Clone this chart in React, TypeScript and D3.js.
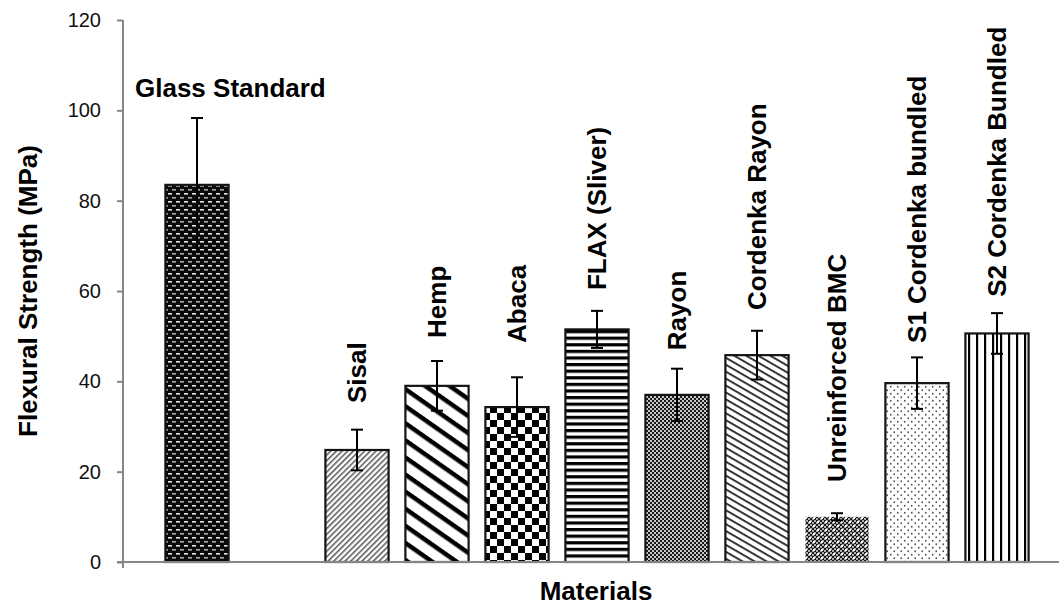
import React, { useEffect, useRef } from 'react'
import * as d3 from 'd3'

// materials (the second slot is an empty gap in the original chart)
const categories = [
  'Glass Standard',
  'gap',
  'Sisal',
  'Hemp',
  'Abaca',
  'FLAX (Sliver)',
  'Rayon',
  'Cordenka Rayon',
  'Unreinforced BMC',
  'S1 Cordenka bundled',
  'S2 Cordenka Bundled',
]
const strength = [83.5, null, 24.8, 39.0, 34.3, 51.5, 37.0, 45.8, 10.0, 39.6, 50.6]
const errors = [14.8, null, 4.5, 5.5, 6.6, 4.1, 5.8, 5.4, 0.8, 5.7, 4.5]
// where each data label sits (MPa)
const labelAt = [103, null, 35.2, 49.6, 48.5, 60.2, 46.9, 55.8, 17.7, 48.5, 58.7]
const fills = ['glass', null, 'sisal', 'hemp', 'abaca', 'flax', 'rayon', 'cordenka', 'bmc', 's1', 's2']
const yTicks = [0, 20, 40, 60, 80, 100, 120]

const W = 1059
const H = 608
const FONT = '"Liberation Sans", Arial, sans-serif'

const App = () => {
  const ref = useRef<SVGSVGElement>(null)

  useEffect(() => {
    const svg = d3.select(ref.current)
    svg.selectAll('*').remove()

    const x = d3
      .scaleBand<string>()
      .domain(categories)
      .range([157, 1037])
      .paddingInner(0.21)
      .paddingOuter(0.105)
    const y = d3.scaleLinear().domain([0, 120]).range([562, 20])

    // patterns
    const defs = svg.append('defs')
    const pat = (id: string, w: number, h: number, rot = 0) => {
      const p = defs
        .append('pattern')
        .attr('id', id)
        .attr('patternUnits', 'userSpaceOnUse')
        .attr('width', w)
        .attr('height', h)
      if (rot) p.attr('patternTransform', `rotate(${rot})`)
      return p
    }

    let p = pat('glass', 8, 8)
    p.append('rect').attr('width', 8).attr('height', 8).attr('fill', '#0a0a0a')
    p.append('rect').attr('x', 0).attr('y', 1).attr('width', 4).attr('height', 1.6).attr('fill', '#e6e6e6')
    p.append('rect').attr('x', 4).attr('y', 5).attr('width', 4).attr('height', 1.6).attr('fill', '#a8a8a8')

    p = pat('sisal', 4, 4, -45)
    p.append('rect').attr('width', 4).attr('height', 4).attr('fill', '#fff')
    p.append('rect').attr('width', 4).attr('height', 1.5).attr('fill', '#555')

    p = pat('hemp', 14, 14, 35)
    p.append('rect').attr('width', 14).attr('height', 14).attr('fill', '#fff')
    p.append('rect').attr('width', 14).attr('height', 4.5).attr('fill', '#000')

    p = pat('abaca', 14, 14)
    p.append('rect').attr('width', 14).attr('height', 14).attr('fill', '#fff')
    p.append('rect').attr('width', 7).attr('height', 7).attr('fill', '#000')
    p.append('rect').attr('x', 7).attr('y', 7).attr('width', 7).attr('height', 7).attr('fill', '#000')

    p = pat('flax', 6.6, 6.6)
    p.append('rect').attr('width', 6.6).attr('height', 6.6).attr('fill', '#fff')
    p.append('rect').attr('width', 6.6).attr('height', 3.2).attr('fill', '#000')

    p = pat('rayon', 4, 4)
    p.append('rect').attr('width', 4).attr('height', 4).attr('fill', '#c8c8c8')
    p.append('rect').attr('width', 2).attr('height', 2).attr('fill', '#1a1a1a')
    p.append('rect').attr('x', 2).attr('y', 2).attr('width', 2).attr('height', 2).attr('fill', '#1a1a1a')

    p = pat('cordenka', 6, 6, 30)
    p.append('rect').attr('width', 6).attr('height', 6).attr('fill', '#fff')
    p.append('rect').attr('width', 6).attr('height', 1.8).attr('fill', '#222')

    p = pat('bmc', 8, 8)
    p.append('rect').attr('width', 8).attr('height', 8).attr('fill', '#b0b0b0')
    for (let i = 0; i < 4; i++)
      for (let j = 0; j < 4; j++)
        if ((i + j) % 2 === 0)
          p.append('rect').attr('x', i * 2).attr('y', j * 2).attr('width', 2).attr('height', 2).attr('fill', '#1a1a1a')
    p.append('rect').attr('x', 1).attr('y', 1).attr('width', 2).attr('height', 2).attr('fill', '#fff')
    p.append('rect').attr('x', 5).attr('y', 5).attr('width', 2).attr('height', 2).attr('fill', '#fff')

    p = pat('s1', 7, 7)
    p.append('rect').attr('width', 7).attr('height', 7).attr('fill', '#fff')
    p.append('circle').attr('cx', 1.75).attr('cy', 1.75).attr('r', 0.9).attr('fill', '#555')
    p.append('circle').attr('cx', 5.25).attr('cy', 5.25).attr('r', 0.9).attr('fill', '#555')

    p = pat('s2', 8, 8)
    p.append('rect').attr('width', 8).attr('height', 8).attr('fill', '#fff')
    p.append('rect').attr('width', 2.2).attr('height', 8).attr('fill', '#000')

    const rows = categories
      .map((c, i) => ({ c, v: strength[i], e: errors[i], l: labelAt[i], f: fills[i], i }))
      .filter(d => d.v !== null)

    // bars
    svg
      .selectAll('rect.bar')
      .data(rows)
      .enter()
      .append('rect')
      .attr('class', 'bar')
      .attr('x', d => x(d.c)!)
      .attr('y', d => y(d.v!))
      .attr('width', x.bandwidth())
      .attr('height', d => y(0) - y(d.v!))
      .attr('fill', d => `url(#${d.f})`)
      .attr('stroke', d => (d.f === 'bmc' ? 'none' : '#141414'))
      .attr('stroke-width', 2.2)

    // axes
    const yAxis = d3.axisLeft(y).tickValues(yTicks).tickSize(6).tickSizeOuter(0).tickPadding(16)
    const gy = svg.append('g').attr('transform', 'translate(123,0)').call(yAxis)
    gy.select('.domain').remove()
    gy.selectAll('.tick line').attr('stroke', '#868686').attr('stroke-width', 2)
    gy.selectAll('.tick text')
      .attr('fill', '#111')
      .style('font-family', FONT)
      .style('font-size', '20px')
    svg.append('line').attr('x1', 123).attr('x2', 123).attr('y1', y(120)).attr('y2', y(0) + 6)
      .attr('stroke', '#868686').attr('stroke-width', 2)
    svg.append('line').attr('x1', 117).attr('x2', W).attr('y1', y(0)).attr('y2', y(0))
      .attr('stroke', '#868686').attr('stroke-width', 2)

    // error bars
    const cx = (d: any) => x(d.c)! + x.bandwidth() / 2
    const eb = svg.append('g').attr('stroke', '#000').attr('stroke-width', 2)
    rows.forEach(d => {
      const top = y(d.v! + d.e!)
      const bot = y(d.v! - d.e!)
      eb.append('line').attr('x1', cx(d)).attr('x2', cx(d)).attr('y1', top).attr('y2', bot)
      eb.append('line').attr('x1', cx(d) - 6).attr('x2', cx(d) + 6).attr('y1', top).attr('y2', top)
      eb.append('line').attr('x1', cx(d) - 6).attr('x2', cx(d) + 6).attr('y1', bot).attr('y2', bot)
    })

    // data labels
    rows.forEach(d => {
      const t = svg
        .append('text')
        .text(d.c)
        .style('font-family', FONT)
        .style('font-size', '26px')
        .style('font-weight', 'bold')
        .attr('fill', '#000')
      if (d.i === 0) {
        t.attr('x', cx(d) - 62).attr('y', y(d.l!))
      } else {
        t.attr('transform', `translate(${cx(d) + 9},${y(d.l!)}) rotate(-90)`)
      }
    })

    // axis titles
    svg
      .append('text')
      .attr('transform', `translate(37,${(y(0) + y(120)) / 2}) rotate(-90)`)
      .attr('text-anchor', 'middle')
      .style('font-family', FONT)
      .style('font-size', '26px')
      .style('font-weight', 'bold')
      .text('Flexural Strength (MPa)')
    svg
      .append('text')
      .attr('x', 596)
      .attr('y', 600)
      .attr('text-anchor', 'middle')
      .style('font-family', FONT)
      .style('font-size', '26px')
      .style('font-weight', 'bold')
      .text('Materials')
  }, [])

  return (
    <div style={{ position: 'absolute', left: 0, top: 0, width: W, height: H, background: '#fff' }}>
      <svg ref={ref} width={W} height={H} />
    </div>
  )
}

export default App
